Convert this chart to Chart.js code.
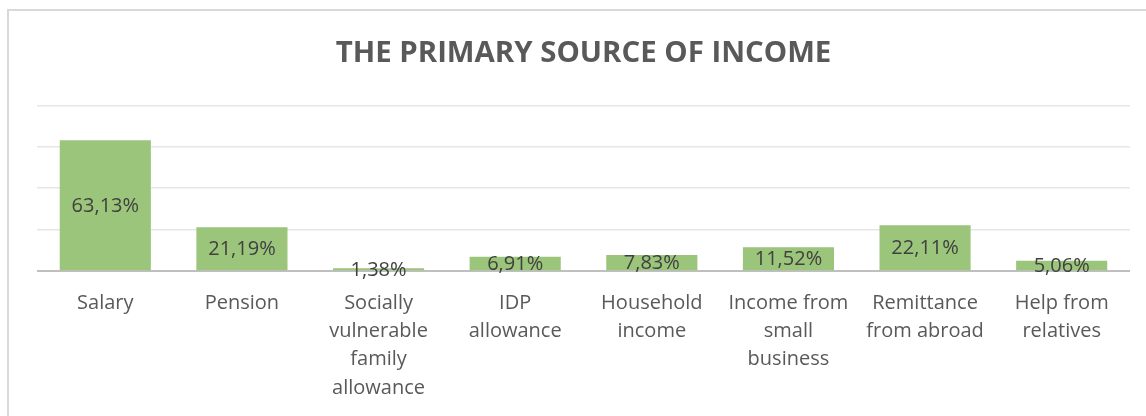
<!DOCTYPE html>
<html lang="en">
<head>
  <meta charset="UTF-8">
  <title>The Primary Source of Income</title>
  <style>
    html, body { margin: 0; padding: 0; background: #fff; overflow: hidden; }
    .wrap { position: relative; width: 1146px; height: 416px; }
    .frame {
      position: absolute; left: 7px; top: 9px; width: 1200px; height: 500px;
      border-left: 2px solid #d9d9d9; border-top: 2px solid #d9d9d9;
    }
    canvas { position: absolute; left: 0; top: 0; }
  </style>
</head>
<body>
  <div class="wrap">
    <div class="frame"></div>
    <canvas id="chart" width="1146" height="416"></canvas>
  </div>

  <script src="https://cdn.jsdelivr.net/npm/chart.js"></script>
  <script>
    // data
    const categories = [
      ['Salary'],
      ['Pension'],
      ['Socially', 'vulnerable', 'family', 'allowance'],
      ['IDP', 'allowance'],
      ['Household', 'income'],
      ['Income from', 'small', 'business'],
      ['Remittance', 'from abroad'],
      ['Help from', 'relatives']
    ];
    const shares = [63.13, 21.19, 1.38, 6.91, 7.83, 11.52, 22.11, 5.06];
    const yTicks = [0, 20, 40, 60, 80];

    const fontFamily = '"Open Sans", "Noto Sans", sans-serif';

    // labels in the middle of each bar, comma as decimal separator
    const barLabels = {
      id: 'barLabels',
      afterDatasetsDraw(chart) {
        const ctx = chart.ctx;
        const meta = chart.getDatasetMeta(0);
        ctx.save();
        ctx.font = '20px ' + fontFamily;
        ctx.fillStyle = '#404040';
        ctx.textAlign = 'center';
        ctx.textBaseline = 'middle';
        meta.data.forEach((bar, i) => {
          const txt = shares[i].toFixed(2).replace('.', ',') + '%';
          ctx.fillText(txt, bar.x, (bar.y + bar.base) / 2 + 1);
        });
        ctx.restore();
      }
    };

    const ctx = document.getElementById('chart').getContext('2d');
    new Chart(ctx, {
      type: 'bar',
      data: {
        labels: categories,
        datasets: [{
          data: shares,
          backgroundColor: '#9bc57b',
          borderWidth: 0,
          barPercentage: 0.667,
          categoryPercentage: 1
        }]
      },
      options: {
        responsive: false,
        animation: false,
        layout: { padding: { left: 37, right: 16, top: 36, bottom: 4 } },
        plugins: {
          legend: { display: false },
          tooltip: { enabled: false },
          title: {
            display: true,
            text: 'THE PRIMARY SOURCE OF INCOME',
            color: '#595959',
            font: { family: fontFamily, size: 29.4, weight: 'bold' },
            padding: { top: 0, bottom: 34 }
          }
        },
        scales: {
          x: {
            grid: { display: false },
            border: { display: false },
            ticks: {
              color: '#595959',
              font: { family: fontFamily, size: 20, lineHeight: 1.41 },
              padding: 10,
              maxRotation: 0,
              minRotation: 0,
              autoSkip: false
            }
          },
          y: {
            min: 0,
            max: 80,
            afterBuildTicks(scale) {
              scale.ticks = yTicks.map(v => ({ value: v }));
            },
            afterFit(scale) { scale.width = 0; },
            border: { display: false },
            grid: {
              drawTicks: false,
              color: c => c.tick.value === 0 ? '#bfbfbf' : '#e6e6e6',
              lineWidth: c => c.tick.value === 0 ? 2 : 1.5
            },
            ticks: { display: false }
          }
        }
      },
      plugins: [barLabels]
    });
  </script>
</body>
</html>
